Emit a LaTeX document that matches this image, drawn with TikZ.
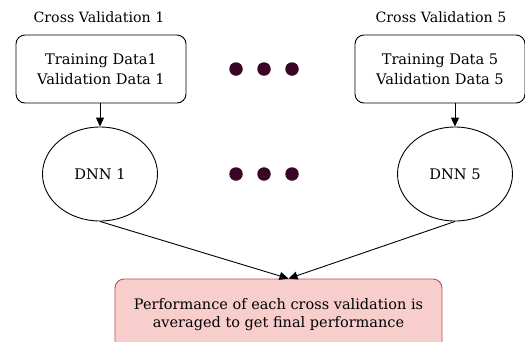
\documentclass[tikz,border=0pt]{standalone}
\usepackage{fontspec}
\setmainfont{DejaVu Serif}
\usetikzlibrary{positioning, arrows, arrows.meta, shapes.geometric}
\definecolor{dotcol}{HTML}{3A0626}
\definecolor{resfill}{HTML}{F8CECC}
\definecolor{resdraw}{HTML}{B85450}

\begin{document}
\begin{tikzpicture}[x=1pt, y=-1pt, line width=0.9pt]
    \tikzstyle{databox}=[
        draw = black,
        rounded corners = 9pt,
        minimum width = 170pt,
        minimum height = 68pt,
        align = center,
        font = \fontsize{14.6}{20}\selectfont
    ]
    \tikzstyle{net}=[
        draw = black,
        ellipse,
        inner sep = 0pt,
        minimum width = 115pt,
        minimum height = 94pt,
        font = \fontsize{14.6}{17}\selectfont
    ]
    \tikzstyle{title}=[font = \fontsize{14.2}{17}\selectfont]
    \tikzstyle{dot}=[circle, fill = dotcol, inner sep = 0pt, minimum size = 13.5pt]
    \useasboundingbox (0,0) rectangle (525,341);

    \node (box1) [databox] at (101,69) {Training Data1\\Validation Data 1};
    \node (box5) [databox] at (440,69) {Training Data 5\\Validation Data 5};
    \node (cv1) [title] at (99,17) {Cross Validation 1};
    \node (cv5) [title] at (441,17) {Cross Validation 5};

    \node (dnn1) [net] at (100,174) {DNN 1};
    \node (dnn5) [net] at (455,174) {DNN 5};

    \node (res) [draw = resdraw, fill = resfill, rounded corners = 9pt,
        minimum width = 327pt, minimum height = 72pt, align = center,
        font = \fontsize{14.5}{18}\selectfont] at (278.5,315)
        {Performance of each cross validation is\\averaged to get final performance};

    % dots between the two columns
    \foreach \i/\x in {1/236, 2/264, 3/292} {
      \node (dota\i) [dot] at (\x,69) {};
      \node (dotb\i) [dot] at (\x,174) {};
    }

    \path[-{Triangle[length=9pt, width=8pt]}]
             (box1.south -| dnn1.north) edge (dnn1.north)
             (box5.south -| dnn5.north) edge (dnn5.north)
             (dnn1.south) edge ([xshift=10pt]res.north)
             (dnn5.south) edge ([xshift=10pt]res.north);
\end{tikzpicture}
\end{document}
